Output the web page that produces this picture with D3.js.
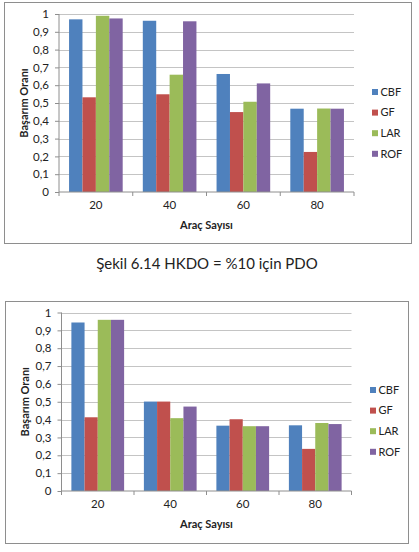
<!DOCTYPE html>
<html>
<head>
<meta charset="utf-8">
<script src="https://cdn.jsdelivr.net/npm/d3@7"></script>
<style>
  body { margin: 0; background: #fff; }
  text { font-family: Lato, "Open Sans", sans-serif; fill: #222; }
</style>
</head>
<body>
<div id="chart"></div>
<script>
// data
const categories = ["20", "40", "60", "80"];
const seriesNames = ["CBF", "GF", "LAR", "ROF"];
const seriesColors = ["#4F81BD", "#C0504D", "#9BBB59", "#8064A2"];
const yTicks = [0, 0.1, 0.2, 0.3, 0.4, 0.5, 0.6, 0.7, 0.8, 0.9, 1];

// chart 1 (HKDO = %10)
const top_CBF = [0.970, 0.962, 0.663, 0.468];
const top_GF  = [0.532, 0.549, 0.449, 0.225];
const top_LAR = [0.990, 0.659, 0.507, 0.469];
const top_ROF = [0.975, 0.959, 0.610, 0.468];

// chart 2
const bot_CBF = [0.944, 0.501, 0.366, 0.368];
const bot_GF  = [0.413, 0.501, 0.402, 0.236];
const bot_LAR = [0.959, 0.408, 0.363, 0.381];
const bot_ROF = [0.959, 0.473, 0.363, 0.375];

const caption = "Şekil 6.14 HKDO = %10 için PDO";
const yTitle = "Başarım Oranı";
const xTitle = "Araç Sayısı";

const W = 419, H = 552;
const svg = d3.select("#chart").append("svg")
    .attr("width", W).attr("height", H);

svg.append("rect").attr("width", W).attr("height", H).attr("fill", "#fff");

function drawChart(box, plot, seriesVals) {
    const g = svg.append("g");

    // outer border
    g.append("rect")
        .attr("x", box.x0 + 0.5).attr("y", box.y0 + 0.5)
        .attr("width", box.x1 - box.x0).attr("height", box.y1 - box.y0)
        .attr("fill", "#fff").attr("stroke", "#8e8e8e").attr("stroke-width", 1);

    const x = d3.scaleBand().domain(categories).range([plot.x0, plot.x1]).paddingInner(0).paddingOuter(0);
    // excel gap width 150%: 4 bars + 1.5 bar gap per category
    const x1 = d3.scaleBand().domain(seriesNames)
        .range([x.bandwidth() * 0.75 / 5.5, x.bandwidth() - x.bandwidth() * 0.75 / 5.5]);
    const y = d3.scaleLinear().domain([0, 1]).range([plot.y1, plot.y0]);

    // gridlines
    g.append("g").selectAll("line").data(yTicks.slice(1)).join("line")
        .attr("x1", plot.x0).attr("x2", plot.x1)
        .attr("y1", d => Math.round(y(d)) + 0.5).attr("y2", d => Math.round(y(d)) + 0.5)
        .attr("stroke", "#c4c4c4");

    // bars
    const rows = categories.map((c, i) => ({ c, vals: seriesVals.map(s => s[i]) }));
    g.append("g").selectAll("g").data(rows).join("g")
        .attr("transform", d => `translate(${x(d.c)},0)`)
        .selectAll("rect").data(d => d.vals.map((v, k) => ({ v, k })))
        .join("rect")
        .attr("x", d => x1(seriesNames[d.k]))
        .attr("width", x1.bandwidth())
        .attr("y", d => y(d.v))
        .attr("height", d => y(0) - y(d.v))
        .attr("fill", d => seriesColors[d.k]);

    // y axis
    const ya = g.append("g")
        .attr("transform", `translate(${plot.x0},0)`)
        .call(d3.axisLeft(y).tickValues(yTicks).tickSize(4).tickPadding(6)
            .tickFormat(d => d === 0 || d === 1 ? String(d) : d3.format(".1f")(d).replace(".", ",")));
    ya.select(".domain").attr("stroke", "#8e8e8e").attr("d", `M0,${plot.y0}V${plot.y1}`);
    ya.selectAll(".tick line").attr("stroke", "#8e8e8e");
    ya.selectAll("text").style("font-size", "11.5px").attr("fill", "#333");

    // x axis
    const xa = g.append("g")
        .attr("transform", `translate(0,${plot.y1})`)
        .call(d3.axisBottom(x).tickSize(0).tickPadding(9));
    xa.select(".domain").attr("stroke", "#8e8e8e").attr("d", `M${plot.x0},0H${plot.x1}`);
    xa.selectAll("text").style("font-size", "11.5px").attr("fill", "#333");
    // category boundary ticks
    xa.append("g").selectAll("line").data(d3.range(categories.length + 1)).join("line")
        .attr("x1", i => plot.x0 + i * x.step()).attr("x2", i => plot.x0 + i * x.step())
        .attr("y1", 0).attr("y2", 4).attr("stroke", "#8e8e8e");

    // axis titles
    g.append("text")
        .attr("transform", `translate(${box.x0 + 20},${(plot.y0 + plot.y1) / 2}) rotate(-90)`)
        .attr("text-anchor", "middle").attr("dy", "0.35em")
        .style("font-size", "11px").style("font-weight", "bold")
        .text(yTitle);
    g.append("text")
        .attr("x", (plot.x0 + plot.x1) / 2).attr("y", plot.y1 + 33).attr("dy", "0.35em")
        .attr("text-anchor", "middle")
        .style("font-size", "11px").style("font-weight", "bold")
        .text(xTitle);

    // legend
    const leg = g.append("g").selectAll("g").data(seriesNames).join("g")
        .attr("transform", (d, i) => `translate(${box.legX},${box.legY + i * 20.6})`);
    leg.append("rect").attr("x", 0).attr("y", -3).attr("width", 6).attr("height", 6)
        .attr("fill", (d, i) => seriesColors[i]);
    leg.append("text").attr("x", 8.5).attr("y", 0).attr("dy", "0.35em")
        .style("font-size", "11px").attr("fill", "#333")
        .text(d => d);
}

drawChart({ x0: 4, y0: 2, x1: 411, y1: 243, legX: 372, legY: 92 },
          { x0: 59, x1: 354, y0: 14, y1: 192 },
          [top_CBF, top_GF, top_LAR, top_ROF]);

svg.append("text")
    .attr("x", 207).attr("y", 264).attr("dy", "0.35em")
    .attr("text-anchor", "middle")
    .style("font-size", "15px")
    .text(caption);

drawChart({ x0: 5, y0: 301, x1: 408, y1: 543, legX: 370, legY: 390 },
          { x0: 61.5, x1: 351.5, y0: 312.5, y1: 491 },
          [bot_CBF, bot_GF, bot_LAR, bot_ROF]);
</script>
</body>
</html>
